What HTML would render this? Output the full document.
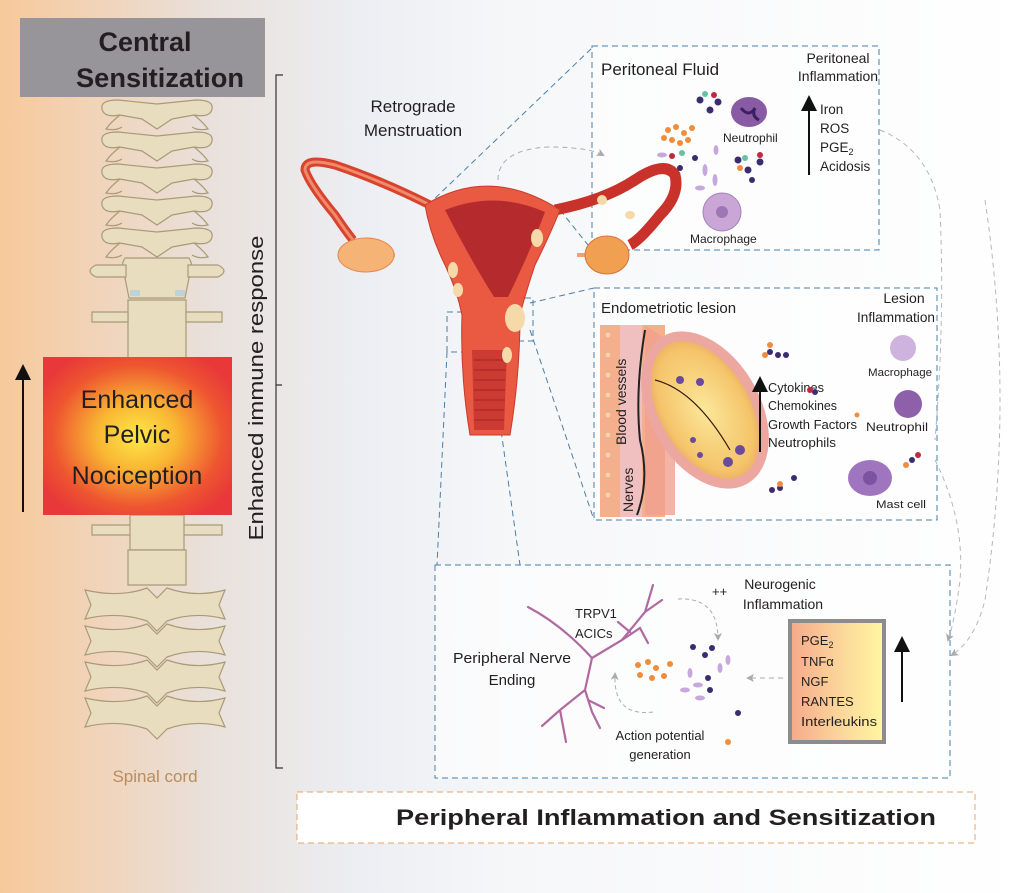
<!DOCTYPE html>
<html><head><meta charset="utf-8">
<style>
html,body{margin:0;padding:0;width:1024px;height:893px;overflow:hidden;background:#fff}
svg{display:block}
text{font-family:"Liberation Sans",sans-serif;fill:#231f20}
</style></head><body>
<svg width="1024" height="893" viewBox="0 0 1024 893" xmlns="http://www.w3.org/2000/svg">
<defs>
<linearGradient id="bg" x1="0" x2="1" y1="0" y2="0">
<stop offset="0" stop-color="#f7c99a"/>
<stop offset="0.08" stop-color="#f2d2b4"/>
<stop offset="0.2" stop-color="#e9e0da"/>
<stop offset="0.35" stop-color="#eceef3"/>
<stop offset="0.5" stop-color="#f6f7f9"/>
<stop offset="1" stop-color="#ffffff"/>
</linearGradient>
<radialGradient id="hot" cx="0.5" cy="0.5" r="0.6">
<stop offset="0" stop-color="#fde84a"/>
<stop offset="0.35" stop-color="#f9b733"/>
<stop offset="0.75" stop-color="#ee5530"/>
<stop offset="1" stop-color="#e8383a"/>
</radialGradient>
<linearGradient id="cyt" x1="0" x2="1">
<stop offset="0" stop-color="#f6a98a"/>
<stop offset="0.5" stop-color="#fbd39a"/>
<stop offset="1" stop-color="#fff7a0"/>
</linearGradient>
<radialGradient id="les" cx="0.5" cy="0.5" r="0.55">
<stop offset="0" stop-color="#fbe79a"/>
<stop offset="0.8" stop-color="#f5c46a"/>
<stop offset="1" stop-color="#e8a860"/>
</radialGradient>
<marker id="ag" markerWidth="8" markerHeight="8" refX="6" refY="4" orient="auto"><path d="M0,0 L8,4 L0,8 L2,4z" fill="#a9abae"/></marker>
<marker id="ab" markerWidth="8" markerHeight="8" refX="4" refY="4" orient="auto"><path d="M0,0 L8,4 L0,8z" fill="#111"/></marker>
<g id="tv">
<path d="M118,0 q-18,0 -16,9 q2,9 18,6 l22,4 l15,10 l15,-10 l22,-4 q16,3 18,-6 q2,-9 -16,-9 l-39,4z"/>
<path d="M120,15 q-10,8 -14,14 q10,2 16,-2 M194,15 q10,8 14,14 q-10,2 -16,-2" fill="none"/>
</g>
<g id="lv">
<path d="M85,0 q35,8 62,-2 l10,10 l10,-10 q28,10 58,2 l-6,15 l6,14 q-30,-8 -58,2 l-10,10 l-10,-10 q-30,-10 -62,-2 l6,-14z"/>
</g>
</defs>
<rect width="1024" height="893" fill="url(#bg)"/>

<!-- spine -->
<g fill="#e9ddc0" stroke="#a99a78" stroke-width="1.2">
<use href="#tv" y="100"/><use href="#tv" y="132"/><use href="#tv" y="164"/><use href="#tv" y="196"/><use href="#tv" y="228"/>
<path d="M125,258 h64 q6,10 0,20 l-4,20 h-56 l-4,-20 q-6,-10 0,-20z"/>
<path d="M96,265 q-12,6 0,12 h30 v-12z M218,265 q12,6 0,12 h-30 v-12z"/>
<path d="M128,300 h58 v58 h-58z"/>
<path d="M92,312 h36 v10 h-36z M186,312 h36 v10 h-36z"/>
<path d="M130,515 h54 v35 h-54z M92,525 h38 v10 h-38z M184,525 h38 v10 h-38z"/>
<path d="M128,550 h58 v35 h-58z"/>
<use href="#lv" y="590"/><use href="#lv" y="626"/><use href="#lv" y="662"/><use href="#lv" y="698"/>
</g>
<g fill="#bcd3dc"><rect x="130" y="290" width="10" height="6"/><rect x="175" y="290" width="10" height="6"/></g>

<rect x="20" y="18" width="245" height="79" fill="#98959a"/>
<text x="145" y="51" text-anchor="middle" font-size="27" font-weight="bold">Central</text>
<text x="160" y="87" text-anchor="middle" font-size="27" font-weight="bold" textLength="168" lengthAdjust="spacingAndGlyphs">Sensitization</text>

<rect x="43" y="357" width="189" height="158" fill="url(#hot)"/>
<text x="137" y="408" text-anchor="middle" font-size="25">Enhanced</text>
<text x="137" y="443" text-anchor="middle" font-size="25">Pelvic</text>
<text x="137" y="484" text-anchor="middle" font-size="25">Nociception</text>
<line x1="23" y1="512" x2="23" y2="372" stroke="#111" stroke-width="2" marker-end="url(#ab)"/>
<text x="155" y="782" text-anchor="middle" font-size="17" style="fill:#b98c5e">Spinal cord</text>

<!-- bracket -->
<path d="M283,75 h-7 v693 h7 M276,385 h6" fill="none" stroke="#333" stroke-width="1.2"/>
<text transform="translate(263,388) rotate(-90)" text-anchor="middle" font-size="20" textLength="305" lengthAdjust="spacingAndGlyphs">Enhanced immune response</text>

<text x="413" y="112" text-anchor="middle" font-size="17">Retrograde</text>
<text x="413" y="136" text-anchor="middle" font-size="17">Menstruation</text>

<!-- dashed blue connectors -->
<g stroke="#4a7fa8" stroke-width="1" stroke-dasharray="6,4" fill="none">
<path d="M428,205 L592,48 M560,210 L592,250"/>
<path d="M530,303 L594,288 M530,330 L594,520"/>
<rect x="447" y="312" width="35" height="40"/>
<rect x="495" y="298" width="38" height="43"/>
<path d="M447,352 L437,565 M490,352 L520,565 M578,255 H592"/>
</g>
<rect x="592" y="46" width="287" height="204" fill="#fff" fill-opacity="0.6" stroke="#4a7fa8" stroke-dasharray="6,4"/>
<rect x="594" y="288" width="343" height="232" fill="#fff" fill-opacity="0.6" stroke="#4a7fa8" stroke-dasharray="6,4"/>
<rect x="435" y="565" width="515" height="213" fill="#fff" fill-opacity="0.6" stroke="#4a7fa8" stroke-dasharray="6,4"/>
<rect x="297" y="792" width="678" height="51" fill="#fff" stroke="#e2a66b" stroke-dasharray="6,4"/>
<text x="666" y="825" text-anchor="middle" font-size="22" font-weight="bold" textLength="540" lengthAdjust="spacingAndGlyphs">Peripheral Inflammation and Sensitization</text>

<!-- uterus -->
<g>
<path d="M430,205 q-50,-25 -95,-40 q-30,-8 -30,5 q5,15 30,45 q10,15 18,25" fill="none" stroke="#d8432e" stroke-width="9"/>
<path d="M430,205 q-50,-25 -95,-40 q-30,-8 -30,5 q5,15 30,45 q10,15 18,25" fill="none" stroke="#f08a6a" stroke-width="3"/>
<path d="M555,210 q50,-10 80,-30 q30,-20 40,-5 q5,20 -15,40 q-20,25 -30,30" fill="none" stroke="#c8322a" stroke-width="11"/>
<path d="M395,255 h-30 M577,255 h30" stroke="#f2a070" stroke-width="4"/>
<ellipse cx="366" cy="255" rx="28" ry="17" fill="#f5b376" stroke="#e0894f"/>
<ellipse cx="607" cy="255" rx="22" ry="19" fill="#f0a050" stroke="#d8743a"/>
<path d="M425,205 q65,-40 135,5 q-10,25 -25,55 q-10,30 -15,50 q0,60 -10,120 h-40 q-10,-60 -8,-120 q-5,-25 -17,-50 q-15,-30 -20,-60z" fill="#ea5a42" stroke="#c63b2b"/>
<path d="M445,210 q50,-20 100,2 q-15,40 -37,85 h-14 q-25,-40 -49,-87z" fill="#b52b2d"/>
<path d="M472,350 h35 l-3,80 h-30z" fill="#cc3a34"/>
<g stroke="#a82220" stroke-width="1"><path d="M474,360 h32 M474,370 h32 M474,380 h31 M474,390 h31 M474,400 h31 M474,410 h30 M474,420 h30"/></g>
<g fill="#f6d9a8"><ellipse cx="537" cy="238" rx="6" ry="9"/><ellipse cx="453" cy="270" rx="5" ry="8"/><ellipse cx="515" cy="318" rx="10" ry="14"/><ellipse cx="458" cy="290" rx="5" ry="7"/><ellipse cx="507" cy="355" rx="5" ry="8"/><ellipse cx="602" cy="200" rx="5" ry="5"/><ellipse cx="630" cy="215" rx="5" ry="4"/></g>
</g>
<path d="M498,180 q0,-30 50,-33 q40,0 55,8" fill="none" stroke="#a9abae" stroke-dasharray="5,4" marker-end="url(#ag)"/>

<!-- peritoneal box -->
<text x="601" y="75" font-size="17">Peritoneal Fluid</text>
<text x="838" y="63" text-anchor="middle" font-size="14">Peritoneal</text>
<text x="838" y="81" text-anchor="middle" font-size="14">Inflammation</text>
<line x1="809" y1="175" x2="809" y2="103" stroke="#111" stroke-width="2" marker-end="url(#ab)"/>
<text x="820" y="114" font-size="13.5">Iron</text>
<text x="820" y="133" font-size="13.5">ROS</text>
<text x="820" y="152" font-size="13.5">PGE<tspan font-size="9" dy="3">2</tspan></text>
<text x="820" y="171" font-size="13.5">Acidosis</text>
<text x="723" y="142" font-size="12">Neutrophil</text>
<text x="690" y="243" font-size="12">Macrophage</text>
<ellipse cx="749" cy="112" rx="18" ry="15" fill="#8a5ba5"/><path d="M741,108 q8,10 14,0 q-4,8 4,12" stroke="#3a2060" stroke-width="3" fill="none"/>
<circle cx="722" cy="212" r="19" fill="#c9a6d6" stroke="#a580bb"/><circle cx="722" cy="212" r="6" fill="#9d77b3"/>
<g fill="#f08c3c"><circle cx="668" cy="130" r="3"/><circle cx="676" cy="127" r="3"/><circle cx="684" cy="133" r="3"/><circle cx="672" cy="140" r="3"/><circle cx="680" cy="143" r="3"/><circle cx="688" cy="140" r="3"/><circle cx="664" cy="138" r="3"/><circle cx="692" cy="128" r="3"/><circle cx="740" cy="168" r="3"/></g>
<g fill="#3a2c6e"><circle cx="700" cy="100" r="3.5"/><circle cx="710" cy="110" r="3.5"/><circle cx="718" cy="102" r="3.5"/><circle cx="738" cy="160" r="3.5"/><circle cx="748" cy="170" r="3.5"/><circle cx="760" cy="162" r="3.5"/><circle cx="680" cy="168" r="3"/><circle cx="695" cy="158" r="3"/><circle cx="752" cy="180" r="3"/></g>
<g fill="#c0283e"><circle cx="714" cy="95" r="3"/><circle cx="760" cy="155" r="3"/><circle cx="672" cy="156" r="3"/></g>
<g fill="#66c2a0"><circle cx="705" cy="94" r="3"/><circle cx="745" cy="158" r="3"/><circle cx="682" cy="153" r="3"/></g>
<g fill="#c6a9dc"><ellipse cx="662" cy="155" rx="5" ry="2.5"/><ellipse cx="705" cy="170" rx="2.5" ry="6"/><ellipse cx="715" cy="180" rx="2.5" ry="6"/><ellipse cx="700" cy="188" rx="5" ry="2.5"/><ellipse cx="716" cy="150" rx="2.5" ry="5"/></g>
<path d="M880,130 q50,20 60,80 q5,110 -5,230" fill="none" stroke="#b5b7ba" stroke-dasharray="5,4"/>

<!-- lesion box -->
<text x="601" y="313" font-size="15">Endometriotic lesion</text>
<text x="904" y="303" text-anchor="middle" font-size="14">Lesion</text>
<text x="896" y="322" text-anchor="middle" font-size="14" textLength="78" lengthAdjust="spacingAndGlyphs">Inflammation</text>
<rect x="600" y="325" width="65" height="192" fill="#f4b08c"/>
<g fill="#f9cfae" stroke="#e79b78" stroke-width="0.5">
<circle cx="608" cy="335" r="3"/><circle cx="608" cy="355" r="3"/><circle cx="608" cy="375" r="3"/><circle cx="608" cy="395" r="3"/><circle cx="608" cy="415" r="3"/><circle cx="608" cy="435" r="3"/><circle cx="608" cy="455" r="3"/><circle cx="608" cy="475" r="3"/><circle cx="608" cy="495" r="3"/></g>
<rect x="620" y="325" width="22" height="192" fill="#f0c0c0"/>
<path d="M645,325 l30,20 v170 h-30z" fill="#f0a08e" opacity="0.8"/>
<path d="M645,330 q-10,60 -5,110 q10,40 -3,75" stroke="#222" stroke-width="2" fill="none"/>
<ellipse cx="705" cy="410" rx="55" ry="85" transform="rotate(-30 705 410)" fill="#eca7a0"/>
<ellipse cx="705" cy="410" rx="45" ry="75" transform="rotate(-30 705 410)" fill="url(#les)"/>
<path d="M655,380 q40,10 75,70" stroke="#3a1a10" stroke-width="1.2" fill="none"/>
<g fill="#6b4a9a"><circle cx="680" cy="380" r="4"/><circle cx="700" cy="382" r="4"/><circle cx="693" cy="440" r="3"/><circle cx="700" cy="455" r="3"/><circle cx="728" cy="462" r="5"/><circle cx="740" cy="450" r="5"/></g>
<text transform="translate(626,445) rotate(-90)" font-size="14">Blood vessels</text>
<text transform="translate(633,512) rotate(-90)" font-size="14">Nerves</text>
<line x1="760" y1="452" x2="760" y2="384" stroke="#111" stroke-width="2" marker-end="url(#ab)"/>
<text x="768" y="392" font-size="12.5" textLength="56" lengthAdjust="spacingAndGlyphs">Cytokines</text>
<text x="768" y="410" font-size="12.5" textLength="69" lengthAdjust="spacingAndGlyphs">Chemokines</text>
<text x="768" y="429" font-size="12.5" textLength="89" lengthAdjust="spacingAndGlyphs">Growth Factors</text>
<text x="768" y="447" font-size="12.5" textLength="68" lengthAdjust="spacingAndGlyphs">Neutrophils</text>
<text x="868" y="376" font-size="11" textLength="64" lengthAdjust="spacingAndGlyphs">Macrophage</text>
<text x="866" y="431" font-size="12" textLength="62" lengthAdjust="spacingAndGlyphs">Neutrophil</text>
<text x="876" y="508" font-size="11" textLength="50" lengthAdjust="spacingAndGlyphs">Mast cell</text>
<circle cx="903" cy="348" r="13" fill="#cdb3dd"/>
<circle cx="908" cy="404" r="14" fill="#8e60aa"/>
<ellipse cx="870" cy="478" rx="22" ry="18" fill="#9f75c0"/><circle cx="870" cy="478" r="7" fill="#7b53a0"/>
<g fill="#3a2c6e"><circle cx="770" cy="352" r="3"/><circle cx="778" cy="355" r="3"/><circle cx="786" cy="355" r="3"/><circle cx="772" cy="490" r="3"/><circle cx="780" cy="488" r="3"/><circle cx="794" cy="478" r="3"/><circle cx="815" cy="392" r="3"/><circle cx="912" cy="460" r="3"/></g>
<g fill="#f08c3c"><circle cx="770" cy="345" r="3"/><circle cx="765" cy="355" r="3"/><circle cx="780" cy="484" r="3"/><circle cx="857" cy="415" r="2.5"/><circle cx="906" cy="465" r="3"/></g>
<g fill="#c0283e"><circle cx="810" cy="390" r="3"/><circle cx="918" cy="455" r="3"/></g>

<!-- bottom box -->
<g stroke="#b06aa0" stroke-width="2.2" fill="none" stroke-linecap="round">
<path d="M528,607 Q562,625 592,658"/>
<path d="M592,658 L622,640 L645,612 L653,585 M645,612 L662,600"/>
<path d="M622,640 L640,628 L648,643 M630,632 L618,622"/>
<path d="M592,658 L585,690 L560,710 L542,726 M585,690 L592,712 L600,728 M560,710 L566,742 M588,700 L604,708"/>
</g>
<text x="575" y="618" font-size="13">TRPV1</text>
<text x="575" y="638" font-size="13">ACICs</text>
<text x="512" y="663" text-anchor="middle" font-size="15" textLength="118" lengthAdjust="spacingAndGlyphs">Peripheral Nerve</text>
<text x="512" y="685" text-anchor="middle" font-size="15">Ending</text>
<text x="712" y="596" font-size="13">++</text>
<text x="780" y="589" text-anchor="middle" font-size="14">Neurogenic</text>
<text x="783" y="609" text-anchor="middle" font-size="14">Inflammation</text>
<text x="660" y="740" text-anchor="middle" font-size="13">Action potential</text>
<text x="660" y="759" text-anchor="middle" font-size="13">generation</text>
<path d="M678,599 q40,-2 40,40" stroke="#a9abae" stroke-dasharray="4,3" fill="none" marker-end="url(#ag)"/>
<path d="M653,712 q-40,5 -38,-38" stroke="#a9abae" stroke-dasharray="4,3" fill="none" marker-end="url(#ag)"/>
<path d="M783,678 h-35" stroke="#a9abae" stroke-dasharray="5,4" fill="none" marker-end="url(#ag)"/>
<g fill="#f08c3c"><circle cx="638" cy="665" r="3"/><circle cx="648" cy="662" r="3"/><circle cx="656" cy="668" r="3"/><circle cx="640" cy="675" r="3"/><circle cx="652" cy="678" r="3"/><circle cx="664" cy="676" r="3"/><circle cx="670" cy="664" r="3"/><circle cx="728" cy="742" r="3"/></g>
<g fill="#3a2c6e"><circle cx="693" cy="647" r="3"/><circle cx="712" cy="648" r="3"/><circle cx="705" cy="655" r="3"/><circle cx="708" cy="678" r="3"/><circle cx="710" cy="690" r="3"/><circle cx="738" cy="713" r="3"/></g>
<g fill="#c6a9dc"><ellipse cx="690" cy="673" rx="2.5" ry="5"/><ellipse cx="698" cy="685" rx="5" ry="2.5"/><ellipse cx="720" cy="668" rx="2.5" ry="5"/><ellipse cx="728" cy="660" rx="2.5" ry="5"/><ellipse cx="700" cy="698" rx="5" ry="2.5"/><ellipse cx="685" cy="690" rx="5" ry="2.5"/></g>
<rect x="790" y="621" width="94" height="121" fill="url(#cyt)" stroke="#8c8c8c" stroke-width="4"/>
<text x="801" y="645" font-size="13">PGE<tspan font-size="9" dy="3">2</tspan></text>
<text x="801" y="666" font-size="13">TNFα</text>
<text x="801" y="686" font-size="13">NGF</text>
<text x="801" y="706" font-size="13">RANTES</text>
<text x="801" y="726" font-size="13" textLength="76" lengthAdjust="spacingAndGlyphs">Interleukins</text>
<line x1="902" y1="702" x2="902" y2="644" stroke="#111" stroke-width="2" marker-end="url(#ab)"/>
<path d="M935,460 q30,60 25,120 q-5,40 -12,60" stroke="#b5b7ba" stroke-dasharray="5,4" fill="none" marker-end="url(#ag)"/>
<path d="M985,200 q30,200 0,400 q-10,40 -33,55" stroke="#b5b7ba" stroke-dasharray="5,4" fill="none" marker-end="url(#ag)"/>
</svg>
</body></html>
